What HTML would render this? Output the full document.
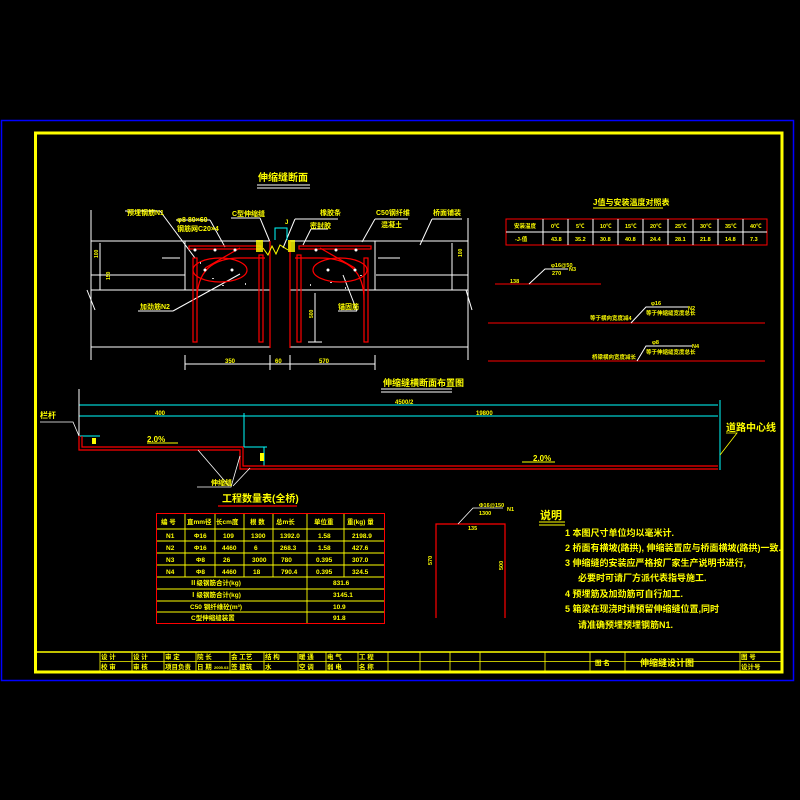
<!DOCTYPE html>
<html><head><meta charset="utf-8"><style>
html,body{margin:0;padding:0;background:#000;}
svg{display:block}
text{font-family:"Liberation Sans","Noto Sans CJK SC",sans-serif;fill:#ffff00;font-weight:bold}
</style></head><body>
<svg width="800" height="800" viewBox="0 0 800 800" xmlns="http://www.w3.org/2000/svg">
<rect width="800" height="800" fill="#000"/>
<!-- frames -->
<rect x="1.5" y="120.5" width="792" height="560" fill="none" stroke="#0000ff" stroke-width="1.5"/>
<rect x="35.5" y="133" width="746.5" height="539" fill="none" stroke="#ffff00" stroke-width="3"/>
<line x1="36" y1="652" x2="782" y2="652" stroke="#ffff00" stroke-width="1.5"/>
<line x1="100" y1="661.5" x2="782" y2="661.5" stroke="#ffff00" stroke-width="0.8"/>
<g stroke="#ffff00" stroke-width="0.8">
<line x1="100" y1="652" x2="100" y2="671"/><line x1="132" y1="652" x2="132" y2="671"/><line x1="164" y1="652" x2="164" y2="671"/><line x1="196" y1="652" x2="196" y2="671"/><line x1="230" y1="652" x2="230" y2="671"/><line x1="264" y1="652" x2="264" y2="671"/><line x1="298" y1="652" x2="298" y2="671"/><line x1="326" y1="652" x2="326" y2="671"/><line x1="358" y1="652" x2="358" y2="671"/><line x1="388" y1="652" x2="388" y2="671"/><line x1="420" y1="652" x2="420" y2="671"/><line x1="450" y1="652" x2="450" y2="671"/><line x1="480" y1="652" x2="480" y2="671"/><line x1="545" y1="652" x2="545" y2="671"/><line x1="590" y1="652" x2="590" y2="671"/><line x1="625" y1="652" x2="625" y2="671"/><line x1="740" y1="652" x2="740" y2="671"/>
</g>
<g font-size="6.5">
<text x="101" y="659">设 计</text><text x="101" y="669">校 审</text>
<text x="133" y="659">设 计</text><text x="133" y="669">审 核</text>
<text x="165" y="659">审 定</text><text x="165" y="669">项目负责</text>
<text x="197" y="659">院 长</text><text x="197" y="669">日 期</text><text x="214" y="669" font-size="4">2005.03</text>
<text x="231" y="659">会 工艺</text><text x="231" y="669">签 建筑</text>
<text x="265" y="659">结 构</text><text x="265" y="669">水</text>
<text x="299" y="659">暖 通</text><text x="299" y="669">空 调</text>
<text x="327" y="659">电 气</text><text x="327" y="669">弱 电</text>
<text x="359" y="659">工 程</text><text x="359" y="669">名 称</text>
<text x="595" y="665">图 名</text>
<text x="640" y="666" font-size="9">伸缩缝设计图</text>
<text x="741" y="659">图 号</text><text x="741" y="669">设计号</text>
</g>

<!-- Cross section -->
<text x="258" y="181" font-size="10">伸缩缝断面</text>
<line x1="257" y1="185" x2="310" y2="185" stroke="#fff"/><line x1="257" y1="188" x2="310" y2="188" stroke="#fff"/>
<g stroke="#fff" stroke-width="1" fill="none">
<line x1="91" y1="210" x2="91" y2="360"/><line x1="468" y1="218" x2="468" y2="360"/>
<line x1="91" y1="241" x2="270" y2="241"/><line x1="290" y1="241" x2="468" y2="241"/>
<line x1="91" y1="275" x2="185" y2="275"/><line x1="376" y1="275" x2="468" y2="275"/>
<line x1="91" y1="290" x2="270" y2="290"/><line x1="290" y1="290" x2="468" y2="290"/>
<line x1="91" y1="347" x2="270" y2="347"/><line x1="290" y1="347" x2="468" y2="347"/>
<line x1="185" y1="241" x2="185" y2="290"/><line x1="375" y1="241" x2="375" y2="290"/>
<line x1="100" y1="243" x2="100" y2="290"/><line x1="452" y1="243" x2="452" y2="290"/>
<line x1="87" y1="290" x2="95" y2="310"/><line x1="466" y1="290" x2="472" y2="310"/>
<line x1="185" y1="355" x2="185" y2="370"/><line x1="270" y1="355" x2="270" y2="370"/><line x1="290" y1="355" x2="290" y2="370"/><line x1="375" y1="355" x2="375" y2="370"/>
<line x1="185" y1="364" x2="375" y2="364"/>
<line x1="315" y1="293" x2="315" y2="342"/><line x1="308" y1="342" x2="322" y2="342"/>
<line x1="125" y1="211" x2="160" y2="211"/><line x1="160" y1="211" x2="195" y2="258"/>
<line x1="176" y1="220" x2="210" y2="220"/><line x1="210" y1="220" x2="225" y2="247"/>
<line x1="231" y1="218" x2="260" y2="218"/><line x1="260" y1="218" x2="270" y2="242"/>
<line x1="295" y1="219" x2="338" y2="219"/><line x1="295" y1="219" x2="283" y2="248"/>
<line x1="311" y1="229" x2="328" y2="229"/><line x1="311" y1="229" x2="303" y2="245"/>
<line x1="375" y1="219" x2="408" y2="219"/><line x1="375" y1="219" x2="362" y2="242"/>
<line x1="432" y1="219" x2="462" y2="219"/><line x1="432" y1="219" x2="420" y2="245"/>
<line x1="138" y1="311" x2="173" y2="311"/><line x1="173" y1="311" x2="240" y2="274"/>
<line x1="338" y1="311" x2="357" y2="311"/><line x1="357" y1="311" x2="343" y2="275"/>
<line x1="162" y1="258" x2="180" y2="258"/><line x1="378" y1="258" x2="400" y2="258"/>
</g>
<g stroke="#ff0000" stroke-width="1.2" fill="none">
<rect x="189" y="246" width="72" height="3"/><rect x="299" y="246" width="72" height="3"/>
<rect x="193" y="258" width="4" height="84"/><rect x="259" y="255" width="4" height="87"/>
<rect x="297" y="255" width="4" height="87"/><rect x="364" y="258" width="4" height="84"/>
<line x1="270" y1="241" x2="270" y2="348"/><line x1="290" y1="241" x2="290" y2="348"/>
<path d="M197 300 Q197 258 240 258 L265 258"/><path d="M364 300 Q364 258 320 258 L295 258"/>
<ellipse cx="220" cy="270" rx="27" ry="12"/><ellipse cx="340" cy="270" rx="27" ry="12"/>
<line x1="240" y1="248" x2="205" y2="268"/><line x1="320" y1="248" x2="355" y2="268"/>
</g>
<g fill="#fff"><circle cx="195" cy="250" r="1.5"/><circle cx="215" cy="250" r="1.5"/><circle cx="235" cy="250" r="1.5"/><circle cx="316" cy="250" r="1.5"/><circle cx="336" cy="250" r="1.5"/><circle cx="356" cy="250" r="1.5"/><circle cx="205" cy="270" r="1.5"/><circle cx="232" cy="270" r="1.5"/><circle cx="328" cy="270" r="1.5"/><circle cx="355" cy="270" r="1.5"/></g>
<g fill="#fff" opacity="0.8"><rect x="200" y="262" width="1" height="2"/><rect x="212" y="278" width="2" height="1"/><rect x="245" y="283" width="1" height="2"/><rect x="222" y="285" width="2" height="1"/><rect x="330" y="282" width="2" height="1"/><rect x="345" y="287" width="1" height="2"/><rect x="360" y="275" width="2" height="1"/><rect x="310" y="284" width="1" height="2"/></g>
<rect x="256" y="240" width="7" height="12" fill="#ffff00" opacity="0.8"/><rect x="288" y="240" width="7" height="12" fill="#ffff00" opacity="0.8"/>
<polyline points="263,248 268,255 272,246 276,254 280,245 288,250" fill="none" stroke="#ffff00"/>
<path d="M275 240 V228 H287 V240" fill="none" stroke="#00ffff"/>
<g font-size="7">
<text x="127" y="215">预埋钢筋N1</text>
<text x="177" y="222">φ8 80×60</text><text x="177" y="231">钢筋网C20×4</text>
<text x="232" y="216">C型伸缩缝</text>
<text x="320" y="215">橡胶条</text><text x="310" y="228">密封胶</text>
<text x="376" y="215">C50钢纤维</text><text x="381" y="227">混凝土</text>
<text x="433" y="215">桥面铺装</text>
<text x="140" y="309">加劲筋N2</text><text x="338" y="309">锚固筋</text>
<text x="225" y="363" font-size="6">350</text><text x="275" y="363" font-size="6">60</text><text x="319" y="363" font-size="6">570</text>
<text x="285" y="224" font-size="6">J</text>
</g>
<g font-size="5"><text x="98" y="258" transform="rotate(-90 98 258)">100</text><text x="110" y="280" transform="rotate(-90 110 280)">150</text><text x="313" y="318" transform="rotate(-90 313 318)">500</text><text x="462" y="257" transform="rotate(-90 462 257)">100</text></g>

<!-- J value table -->
<text x="593" y="205" font-size="8">J值与安装温度对照表</text>
<line x1="593" y1="208" x2="663" y2="208" stroke="#ffff00"/>
<rect x="506" y="219" width="261" height="26" fill="none" stroke="#ff0000"/>
<line x1="506" y1="232" x2="767" y2="232" stroke="#fff"/>
<g stroke="#fff"><line x1="543" y1="219" x2="543" y2="245"/><line x1="568" y1="219" x2="568" y2="245"/><line x1="593" y1="219" x2="593" y2="245"/><line x1="618" y1="219" x2="618" y2="245"/><line x1="643" y1="219" x2="643" y2="245"/><line x1="668" y1="219" x2="668" y2="245"/><line x1="693" y1="219" x2="693" y2="245"/><line x1="718" y1="219" x2="718" y2="245"/><line x1="743" y1="219" x2="743" y2="245"/></g>
<g font-size="5.5">
<text x="514" y="228">安装温度</text><text x="551" y="228">0℃</text><text x="576" y="228">5℃</text><text x="600" y="228">10℃</text><text x="625" y="228">15℃</text><text x="650" y="228">20℃</text><text x="675" y="228">25℃</text><text x="700" y="228">30℃</text><text x="725" y="228">35℃</text><text x="750" y="228">40℃</text>
<text x="515" y="241">-J-值</text><text x="551" y="241">43.8</text><text x="575" y="241">35.2</text><text x="600" y="241">30.8</text><text x="625" y="241">40.8</text><text x="650" y="241">24.4</text><text x="675" y="241">28.1</text><text x="700" y="241">21.8</text><text x="725" y="241">14.8</text><text x="750" y="241">7.3</text>
</g>
<line x1="495" y1="284" x2="601" y2="284" stroke="#ff0000"/>
<polyline points="529,284 545,269 568,269" fill="none" stroke="#fff"/>
<g font-size="5.5"><text x="551" y="267">φ16@50</text><text x="552" y="275">270</text><text x="569" y="271">N3</text><text x="510" y="283">138</text></g>
<line x1="488" y1="323" x2="765" y2="323" stroke="#ff0000"/>
<polyline points="631,323 646,307 688,307" fill="none" stroke="#fff"/>
<g font-size="5.5"><text x="651" y="305">φ16</text><text x="688" y="310">N2</text><text x="646" y="315">等于伸缩缝宽度总长</text><text x="590" y="320">等于横向宽度减4</text></g>
<line x1="488" y1="361" x2="765" y2="361" stroke="#ff0000"/>
<polyline points="637,361 646,346 692,346" fill="none" stroke="#fff"/>
<g font-size="5.5"><text x="652" y="344">φ8</text><text x="692" y="348">N4</text><text x="646" y="354">等于伸缩缝宽度总长</text><text x="592" y="359">桥梁横向宽度减长</text></g>

<!-- transverse layout -->
<text x="383" y="386" font-size="9">伸缩缝横断面布置图</text>
<line x1="381" y1="389" x2="452" y2="389" stroke="#fff"/><line x1="381" y1="392" x2="452" y2="392" stroke="#fff"/>
<g stroke="#00ffff" fill="none">
<line x1="79" y1="405" x2="718" y2="405"/><line x1="79" y1="416" x2="718" y2="416"/>
<line x1="720" y1="400" x2="720" y2="470"/><line x1="244" y1="413" x2="244" y2="447"/>
<line x1="80" y1="436" x2="100" y2="436"/><line x1="244" y1="447" x2="267" y2="447"/><line x1="264" y1="447" x2="264" y2="466"/>
</g>
<line x1="79" y1="389" x2="79" y2="450" stroke="#fff"/>
<g stroke="#ff0000" fill="none" stroke-width="1.2">
<polyline points="79,436 79,450 240,450 240,469 718,469"/>
<polyline points="82,436 82,447 243,447 243,466 718,466"/>
</g>
<rect x="92" y="438" width="4" height="6" fill="#ffff00"/><rect x="260" y="453" width="4" height="8" fill="#ffff00"/>
<g stroke="#fff" fill="none" stroke-width="0.8">
<polyline points="40,422 73,422 79,436"/><polyline points="197,487 231,487 240,456"/><line x1="198" y1="450" x2="229" y2="486"/><line x1="233" y1="486" x2="250" y2="468"/>
</g>
<polyline points="726,433 737,433 720,455" fill="none" stroke="#ffff00" stroke-width="0.8"/>
<g font-size="6"><text x="395" y="404">4500/2</text><text x="155" y="415">400</text><text x="476" y="415">19800</text></g>
<text x="147" y="442" font-size="8">2.0%</text><line x1="147" y1="443" x2="178" y2="443" stroke="#ffff00"/>
<text x="533" y="461" font-size="8">2.0%</text><line x1="522" y1="462" x2="555" y2="462" stroke="#ffff00"/>
<text x="40" y="418" font-size="8">栏杆</text><text x="211" y="485" font-size="7">伸缩缝</text>
<text x="726" y="431" font-size="10">道路中心线</text>

<!-- quantity table -->
<text x="222" y="502" font-size="10">工程数量表(全桥)</text>
<line x1="218" y1="506" x2="297" y2="506" stroke="#ff0000" stroke-width="1.2"/>
<rect x="156.5" y="513.5" width="228" height="110" fill="none" stroke="#ff0000"/>
<g stroke="#ffff00" stroke-width="0.9">
<line x1="157" y1="529" x2="384" y2="529"/><line x1="157" y1="541" x2="384" y2="541"/><line x1="157" y1="553" x2="384" y2="553"/><line x1="157" y1="565" x2="384" y2="565"/><line x1="157" y1="577" x2="384" y2="577"/><line x1="157" y1="589" x2="384" y2="589"/><line x1="157" y1="601" x2="384" y2="601"/><line x1="157" y1="612" x2="384" y2="612"/>
<line x1="185" y1="514" x2="185" y2="577"/><line x1="215" y1="514" x2="215" y2="577"/><line x1="244" y1="514" x2="244" y2="577"/><line x1="273" y1="514" x2="273" y2="577"/><line x1="307" y1="514" x2="307" y2="623"/><line x1="344" y1="514" x2="344" y2="577"/>
</g>
<g font-size="6.5">
<text x="161" y="524">编 号</text><text x="187" y="524">直mm径</text><text x="216" y="524">长cm度</text><text x="250" y="524">根 数</text><text x="276" y="524">总m长</text><text x="314" y="524">单位重</text><text x="347" y="524">重(kg) 量</text>
<text x="166" y="538">N1</text><text x="194" y="538">Φ16</text><text x="223" y="538">109</text><text x="251" y="538">1300</text><text x="280" y="538">1392.0</text><text x="318" y="538">1.58</text><text x="352" y="538">2198.9</text>
<text x="166" y="550">N2</text><text x="194" y="550">Φ16</text><text x="222" y="550">4460</text><text x="254" y="550">6</text><text x="280" y="550">268.3</text><text x="318" y="550">1.58</text><text x="352" y="550">427.6</text>
<text x="166" y="562">N3</text><text x="196" y="562">Φ8</text><text x="223" y="562">26</text><text x="252" y="562">3000</text><text x="281" y="562">780</text><text x="316" y="562">0.395</text><text x="352" y="562">307.0</text>
<text x="166" y="574">N4</text><text x="196" y="574">Φ8</text><text x="222" y="574">4460</text><text x="253" y="574">18</text><text x="281" y="574">790.4</text><text x="316" y="574">0.395</text><text x="352" y="574">324.5</text>
<text x="190" y="585">Ⅱ级钢筋合计(kg)</text><text x="333" y="585">831.6</text>
<text x="190" y="597">Ⅰ级钢筋合计(kg)</text><text x="333" y="597">3145.1</text>
<text x="190" y="609">C50 钢纤维砼(m³)</text><text x="333" y="609">10.9</text>
<text x="191" y="620">C型伸缩缝装置</text><text x="333" y="620">91.8</text>
</g>

<!-- rebar shape -->
<polyline points="436,618 436,524 505,524 505,618" fill="none" stroke="#ff0000" stroke-width="1.2"/>
<polyline points="458,524 473,508 503,508" fill="none" stroke="#fff" stroke-width="0.8"/>
<g font-size="5.5"><text x="479" y="507">Φ16@150</text><text x="479" y="515">1300</text><text x="507" y="511">N1</text><text x="468" y="530">135</text></g>
<g font-size="5.5"><text x="432" y="565" transform="rotate(-90 432 565)">570</text><text x="503" y="570" transform="rotate(-90 503 570)">500</text></g>

<!-- notes -->
<text x="540" y="519" font-size="11">说明</text>
<line x1="539" y1="522" x2="565" y2="522" stroke="#ffff00"/><line x1="539" y1="525" x2="565" y2="525" stroke="#ffff00"/>
<g font-size="9">
<text x="565" y="536">1  本图尺寸单位均以毫米计.</text>
<text x="565" y="551">2  桥面有横坡(路拱), 伸缩装置应与桥面横坡(路拱)一致.</text>
<text x="565" y="566">3  伸缩缝的安装应严格按厂家生产说明书进行,</text>
<text x="578" y="581">必要时可请厂方派代表指导施工.</text>
<text x="565" y="597">4  预埋筋及加劲筋可自行加工.</text>
<text x="565" y="612">5  箱梁在现浇时请预留伸缩缝位置,同时</text>
<text x="578" y="628">请准确预埋预埋钢筋N1.</text>
</g>
</svg>
</body></html>
